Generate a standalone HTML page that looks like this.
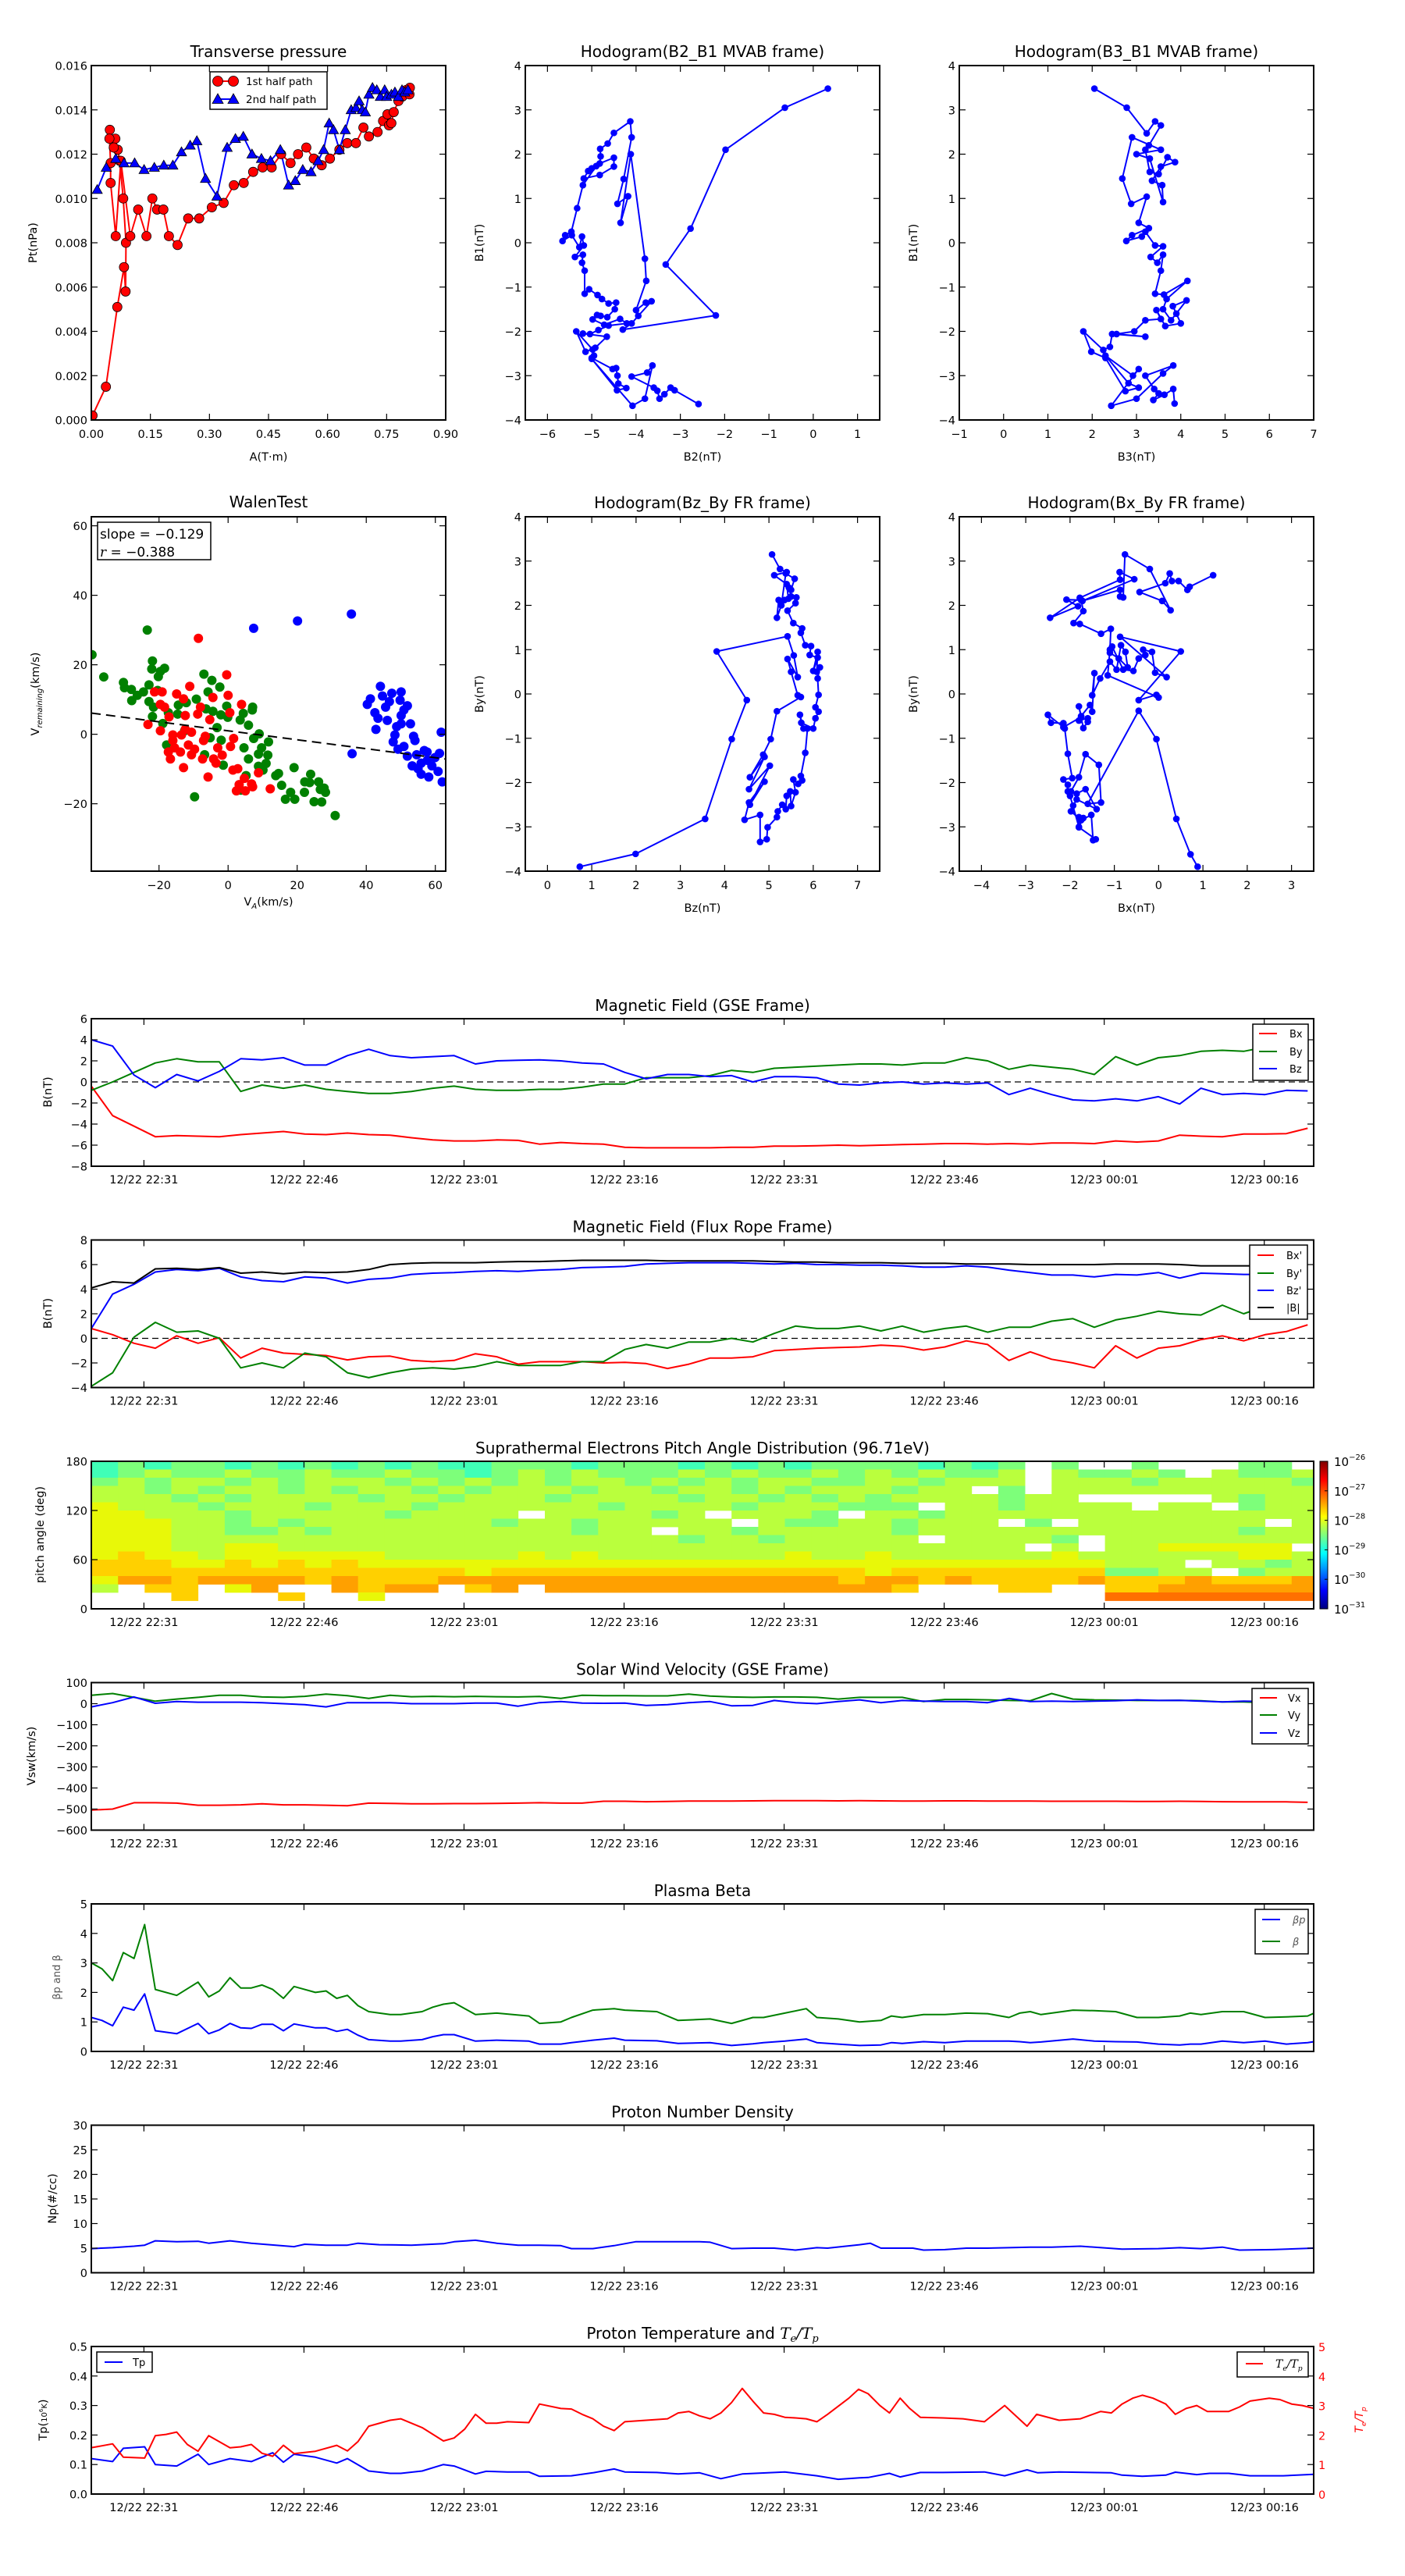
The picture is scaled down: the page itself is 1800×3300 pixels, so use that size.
<!DOCTYPE html>
<html><head><meta charset="utf-8">
<style>
html,body{margin:0;padding:0;background:#fff;}
svg{display:block;font-family:"DejaVu Sans","Liberation Sans",sans-serif;}
</style></head>
<body>
<svg id="fig" xmlns="http://www.w3.org/2000/svg" width="1800" height="3300" viewBox="0 0 1800 3300">
<rect x="0" y="0" width="1800" height="3300" fill="#fff"/>
</svg>
<script>
// ================= DATA =================
const ptFirstHalf = [[0.003,0.0002],[0.037,0.0015],[0.066,0.0051],[0.083,0.0069],[0.087,0.0058],[0.088,0.0080],[0.081,0.0100],[0.072,0.0117],[0.067,0.0122],[0.061,0.0127],[0.057,0.0123],[0.047,0.0131],[0.046,0.0127],[0.049,0.0116],[0.049,0.0107],[0.062,0.0083],[0.075,0.0117],[0.099,0.0083],[0.119,0.0095],[0.140,0.0083],[0.155,0.0100],[0.167,0.0095],[0.183,0.0095],[0.197,0.0083],[0.219,0.0079],[0.246,0.0091],[0.274,0.0091],[0.306,0.0096],[0.336,0.0098],[0.362,0.0106],[0.387,0.0107],[0.411,0.0112],[0.435,0.0114],[0.458,0.0114],[0.482,0.0120],[0.506,0.0116],[0.525,0.0120],[0.546,0.0123],[0.565,0.0118],[0.585,0.0115],[0.606,0.0118],[0.630,0.0122],[0.650,0.0125],[0.672,0.0125],[0.691,0.0132],[0.705,0.0128],[0.727,0.0130],[0.741,0.0135],[0.752,0.0138],[0.756,0.0133],[0.762,0.0134],[0.768,0.0139],[0.780,0.0144],[0.790,0.0146],[0.800,0.0149],[0.808,0.0147],[0.809,0.0150]];
const ptSecondHalf = [[0.015,0.0104],[0.038,0.0114],[0.062,0.0118],[0.083,0.0116],[0.110,0.0116],[0.134,0.0113],[0.160,0.0114],[0.184,0.0115],[0.207,0.0115],[0.229,0.0121],[0.251,0.0124],[0.268,0.0126],[0.290,0.0109],[0.319,0.0101],[0.345,0.0123],[0.366,0.0127],[0.386,0.0128],[0.408,0.0120],[0.432,0.0118],[0.455,0.0117],[0.480,0.0122],[0.501,0.0106],[0.518,0.0108],[0.537,0.0113],[0.558,0.0112],[0.576,0.0117],[0.590,0.0122],[0.604,0.0134],[0.615,0.0131],[0.630,0.0122],[0.645,0.0131],[0.660,0.0140],[0.672,0.0141],[0.680,0.0144],[0.688,0.0140],[0.696,0.0139],[0.705,0.0147],[0.714,0.0150],[0.725,0.0149],[0.734,0.0146],[0.745,0.0149],[0.750,0.0146],[0.762,0.0147],[0.771,0.0148],[0.780,0.0146],[0.789,0.0149],[0.796,0.0148],[0.804,0.0149]];
const ptXTicks = [0,0.15,0.30,0.45,0.60,0.75,0.90];
const ptXTickLabels = ["0.00","0.15","0.30","0.45","0.60","0.75","0.90"];
const ptYTicks = [0,0.002,0.004,0.006,0.008,0.010,0.012,0.014,0.016];
const ptYTickLabels = ["0.000","0.002","0.004","0.006","0.008","0.010","0.012","0.014","0.016"];

const hodoB2B1 = [[0.33,3.48],[-0.64,3.05],[-1.98,2.1],[-2.77,0.32],[-3.33,-0.49],[-2.2,-1.64],[-4.3,-1.96],[-4.1,-1.82],[-3.95,-1.65],[-3.65,-1.32],[-3.78,-1.35],[-4.0,-1.52],[-3.77,-0.86],[-3.8,-0.36],[-4.12,2.0],[-4.35,0.45],[-4.18,1.05],[-4.42,0.88],[-4.28,1.44],[-4.1,2.38],[-4.13,2.74],[-4.5,2.48],[-4.64,2.24],[-4.81,2.12],[-4.8,1.95],[-4.82,1.79],[-4.5,1.92],[-4.5,1.72],[-4.82,1.53],[-5.18,1.45],[-5.08,1.62],[-5.0,1.68],[-4.9,1.73],[-5.2,1.3],[-5.33,0.78],[-5.46,0.25],[-5.6,0.17],[-5.66,0.04],[-5.45,0.17],[-5.28,-0.1],[-5.22,0.14],[-5.18,-0.06],[-5.38,-0.32],[-5.2,-0.27],[-5.22,-0.45],[-5.16,-0.63],[-5.16,-1.15],[-5.06,-1.05],[-4.87,-1.18],[-4.77,-1.27],[-4.62,-1.37],[-4.45,-1.35],[-4.48,-1.5],[-4.65,-1.68],[-4.8,-1.65],[-4.88,-1.63],[-4.98,-1.73],[-4.72,-1.85],[-4.36,-1.72],[-4.21,-1.82],[-4.62,-1.87],[-4.85,-1.97],[-5.04,-2.06],[-5.2,-2.05],[-4.66,-2.12],[-4.92,-2.37],[-5.14,-2.46],[-5.35,-2.0],[-4.98,-2.41],[-4.95,-2.55],[-5.0,-2.6],[-4.53,-2.85],[-4.45,-2.83],[-4.42,-3.0],[-4.4,-3.18],[-4.22,-3.28],[-4.43,-3.33],[-5.0,-2.62],[-4.08,-3.68],[-3.8,-3.52],[-3.63,-2.77],[-3.75,-2.93],[-4.1,-3.02],[-3.6,-3.27],[-3.52,-3.34],[-3.47,-3.52],[-3.36,-3.42],[-3.22,-3.27],[-3.13,-3.33],[-2.59,-3.64]];
const hodoB3B1 = [[2.05,3.48],[2.78,3.05],[3.23,2.47],[3.42,2.74],[3.55,2.65],[3.28,2.2],[3.2,2.1],[3.3,1.6],[3.5,1.55],[3.7,1.93],[3.87,1.82],[3.55,1.72],[3.35,1.4],[3.58,1.3],[3.6,0.92],[3.3,1.9],[3.0,2.0],[3.55,2.1],[2.9,2.38],[2.68,1.45],[2.88,0.88],[3.23,1.04],[3.05,0.45],[3.28,0.33],[2.9,0.17],[2.77,0.04],[3.12,0.14],[3.2,0.25],[3.42,-0.06],[3.6,-0.08],[3.32,-0.32],[3.47,-0.45],[3.6,-0.27],[3.55,-0.63],[3.42,-1.15],[3.62,-1.17],[4.15,-0.86],[3.68,-1.27],[3.6,-1.5],[3.78,-1.75],[4.13,-1.3],[3.82,-1.43],[3.9,-1.6],[4.0,-1.82],[3.65,-1.88],[3.45,-1.52],[3.55,-1.72],[3.2,-1.75],[2.95,-2.0],[2.55,-2.06],[3.2,-2.12],[2.45,-2.06],[2.4,-2.35],[2.25,-2.42],[1.8,-2.0],[1.98,-2.46],[2.3,-2.6],[2.75,-3.35],[3.05,-3.27],[2.82,-3.17],[2.3,-2.55],[2.92,-3.0],[3.05,-2.85],[2.43,-3.68],[3.0,-3.52],[3.6,-2.95],[3.83,-2.77],[3.2,-3.0],[3.4,-3.3],[3.5,-3.4],[3.38,-3.55],[3.63,-3.43],[3.83,-3.3],[3.86,-3.63]];
const hodoBzBy = [[0.73,-3.9],[1.99,-3.61],[3.56,-2.82],[4.16,-1.02],[4.5,-0.14],[3.82,0.96],[5.42,1.3],[5.56,0.87],[5.65,0.38],[5.42,0.79],[5.5,0.5],[5.65,-0.03],[5.72,-0.07],[5.18,-0.39],[5.04,-1.02],[4.87,-1.37],[4.57,-1.88],[4.9,-1.42],[4.55,-2.15],[5.02,-1.62],[4.57,-2.5],[4.9,-1.98],[4.55,-2.45],[4.45,-2.84],[4.8,-2.73],[4.8,-3.34],[4.95,-3.28],[4.97,-3.01],[5.18,-2.78],[5.2,-2.65],[5.3,-2.5],[5.38,-2.6],[5.4,-2.3],[5.48,-2.2],[5.5,-2.53],[5.6,-2.22],[5.55,-1.93],[5.66,-2.03],[5.75,-1.95],[5.72,-1.85],[5.82,-1.33],[5.87,-0.78],[5.78,-0.78],[5.7,-0.47],[5.73,-0.65],[6.0,-0.78],[6.05,-0.55],[6.12,-0.4],[6.05,-0.3],[6.12,-0.02],[6.1,0.35],[6.15,0.6],[6.08,0.5],[6.1,0.95],[6.0,0.52],[6.1,0.82],[5.92,0.88],[5.95,1.08],[5.82,1.1],[5.72,1.38],[5.75,1.48],[5.55,1.6],[5.42,1.88],[5.6,2.05],[5.62,2.18],[5.5,2.2],[5.45,2.4],[5.5,2.35],[5.58,2.6],[5.38,2.72],[5.28,2.0],[5.18,1.72],[5.22,2.12],[5.35,2.12],[5.44,2.15],[5.4,2.48],[5.12,2.68],[5.4,2.75],[5.25,2.82],[5.07,3.15]];
const hodoBxBy = [[0.88,-3.9],[0.72,-3.62],[0.4,-2.82],[-0.05,-1.02],[-0.45,-0.38],[-1.6,-2.48],[-1.3,-2.45],[-1.35,-1.6],[-1.65,-1.36],[-1.8,-1.88],[-1.98,-2.2],[-1.85,-2.25],[-1.65,-2.15],[-1.4,-2.6],[-1.85,-2.38],[-1.93,-2.52],[-1.98,-2.65],[-1.75,-2.85],[-1.52,-2.73],[-1.48,-3.3],[-1.42,-3.28],[-1.8,-3.01],[-1.8,-2.78],[-1.7,-2.8],[-1.8,-3.0],[-2.0,-2.3],[-2.05,-2.2],[-2.05,-2.05],[-2.15,-1.93],[-1.95,-1.9],[-2.05,-1.35],[-2.12,-0.78],[-2.15,-0.66],[-2.43,-0.65],[-2.5,-0.47],[-2.15,-0.75],[-1.75,-0.52],[-1.8,-0.6],[-1.6,-0.55],[-1.6,-0.63],[-1.7,-0.77],[-1.8,-0.28],[-1.75,-0.5],[-1.55,-0.25],[-1.5,-0.4],[-1.45,0.47],[-1.5,-0.03],[-1.32,0.35],[-1.1,0.73],[-0.95,0.55],[-0.85,1.1],[-0.75,0.95],[-0.7,0.6],[-0.9,0.8],[-1.1,0.93],[-1.05,1.07],[-0.8,0.55],[-0.57,0.52],[-0.45,0.8],[-0.3,0.88],[-0.35,1.0],[-0.15,0.95],[-0.08,0.48],[0.18,0.38],[-0.87,1.29],[0.5,0.96],[-0.45,-0.14],[-0.05,-0.02],[0.0,-0.08],[-1.15,0.42],[-1.1,1.0],[-1.08,1.47],[-1.3,1.36],[-1.78,1.58],[-1.92,1.6],[-1.7,1.87],[-1.75,2.12],[-2.08,2.13],[-1.82,1.98],[-2.45,1.72],[-1.78,2.17],[-0.87,2.58],[-0.88,2.75],[-0.55,2.59],[-1.72,2.1],[-0.87,2.35],[-0.87,2.2],[-0.8,2.18],[-0.76,3.15],[-0.2,2.82],[0.27,1.89],[0.08,2.1],[-0.43,2.3],[0.15,2.5],[0.25,2.72],[0.3,2.55],[0.45,2.55],[0.65,2.35],[0.7,2.42],[1.23,2.68]];

const walenGreen = [[-39.4,22.9],[-36,16.5],[-30.3,14.9],[-30,13.4],[-28,12.9],[-27.9,9.7],[-26.3,11.2],[-24.5,12.2],[-23.4,30],[-22.9,14.2],[-22.9,9.4],[-21.9,21.1],[-22.1,18.8],[-20.2,16.6],[-19.6,18.1],[-18.4,19],[-20.4,12.6],[-21.6,7.8],[-21.9,5.1],[-18.9,3.1],[-17.8,-3.1],[-17.3,6.2],[-14.4,8.4],[-12.1,9.1],[-12.6,1],[-14.6,5.8],[-9.2,10.1],[-7,17.3],[-4.7,15.5],[-5.8,12.2],[-2.4,13.6],[-3.2,1.9],[-0.4,8.1],[-0.1,4.9],[-2.1,5.6],[-6.4,7.3],[-4.4,6.6],[-5.2,-1],[-2,-1.7],[-1.4,-8.9],[-6.8,-5.9],[-9.7,-18],[3.5,4.1],[4.4,6],[7.1,7.8],[7,7],[5.9,2.6],[9,0.1],[4.6,-3.9],[7.4,-1.2],[5.9,-7.1],[5.2,-11.9],[8.8,-5.7],[9.7,-3.9],[11.7,-2.2],[11.5,-6],[8.8,-9.2],[10.1,-10.3],[11,-8.4],[13.8,-11.9],[14.6,-11.3],[15.5,-14.7],[16.6,-18.7],[18.1,-16.7],[19.1,-9.6],[19.3,-18.7],[22.1,-16.7],[22.2,-13.7],[23.9,-11.5],[23.6,-13.9],[24.9,-19.4],[26.2,-13.7],[26.7,-15.9],[27.1,-19.5],[27.8,-15.5],[28.2,-16.7],[31,-23.4],[3.7,-16.1]];
const walenRed = [[-8.6,27.6],[-0.4,17.1],[-23.2,2.8],[-21.3,12.2],[-19.1,12.2],[-19.6,1],[-18.4,7.8],[-17.1,5],[-16.7,-7.1],[-15.5,-3.9],[-14.9,11.6],[-12.9,10.2],[-12.4,5.4],[-11.1,13.8],[-13.5,-0.2],[-11.5,-3.1],[-10.6,-5.9],[-8.8,5.8],[-8,7.8],[-7.4,-7.1],[-7.1,-1.8],[-5.8,-12.3],[-5.3,4.2],[-4.4,10.6],[-4.2,-7.1],[-3.0,-3.9],[-1.7,-6],[0,11.2],[0.5,6.2],[0.7,-3.5],[1.6,-1.2],[1.4,-10.3],[2.8,-9.9],[2.4,-16.3],[3.2,-14.5],[3.9,8.6],[4.7,-12.7],[5,-16.3],[6.8,-14.3],[7.1,-15.1],[8.8,-11.1],[12.2,-15.7],[-16,-0.2],[-12.4,1.4],[-9.7,-4.3],[-10.6,0.6],[-13.8,-5.1],[-17.3,-5.1],[-16,-1.8],[-3.5,-8.3],[-6.6,-0.6],[-12.9,-9.6],[-19.6,8.6]];
const walenBlue = [[7.4,30.5],[20.1,32.6],[35.7,34.6],[35.9,-5.6],[40.3,8.6],[41.2,10.2],[42.8,1.4],[44.1,13.8],[42.5,6.2],[44.7,11],[45.6,7.8],[46.1,4],[46.7,9.4],[47.4,11.8],[48.3,-0.2],[48.8,2.2],[49.2,-4.3],[50.1,12.2],[49.8,9.8],[50.1,3],[50.9,-3.5],[51.9,8.2],[51.9,-6.3],[52.8,3],[53.7,-0.6],[54.1,-1.8],[54.6,-5.9],[55.0,-9.9],[55.9,-11.5],[56.8,-4.7],[57.7,-7.5],[58.1,-12.3],[59,-9.1],[59.9,-6.7],[60.8,-10.7],[61.7,0.6],[62,-13.7],[61.2,-5.5],[50.1,5.4],[50.9,7],[47.8,-2.2],[43.4,4.6],[55.9,-8.3],[53.3,-9.1],[57.6,-5.1]];
const walenSlope = -0.129;
const walenIntercept = 1.0;

const tGrid = [0,2,4,6,8,10,12,14,16,18,20,22,24,26,28,30,32,34,36,38,40,42,44,46,48,50,52,54,56,58,60,62,64,66,68,70,72,74,76,78,80,82,84,86,88,90,92,94,96,98,100,102,104,106,108,110,112,114];
const timeTickMinutes = [4.93,19.93,34.93,49.93,64.93,79.93,94.93,109.93];
const timeTickLabels = ["12/22 22:31","12/22 22:46","12/22 23:01","12/22 23:16","12/22 23:31","12/22 23:46","12/23 00:01","12/23 00:16"];

const gseBx = [-0.4,-3.2,-4.2,-5.2,-5.1,-5.15,-5.2,-5.0,-4.85,-4.7,-4.95,-5.0,-4.85,-5.0,-5.05,-5.3,-5.5,-5.6,-5.6,-5.5,-5.55,-5.9,-5.75,-5.85,-5.9,-6.2,-6.25,-6.25,-6.25,-6.25,-6.2,-6.2,-6.1,-6.1,-6.05,-6.0,-6.05,-6.0,-5.95,-5.9,-5.85,-5.85,-5.9,-5.85,-5.9,-5.8,-5.8,-5.85,-5.6,-5.7,-5.6,-5.05,-5.15,-5.2,-4.95,-4.95,-4.9,-4.4];
const gseBy = [-0.8,0.0,0.9,1.8,2.2,1.9,1.9,-0.9,-0.3,-0.6,-0.3,-0.7,-0.9,-1.1,-1.1,-0.9,-0.6,-0.4,-0.7,-0.8,-0.8,-0.7,-0.7,-0.5,-0.2,-0.2,0.4,0.4,0.4,0.6,1.1,0.9,1.3,1.4,1.5,1.6,1.7,1.7,1.6,1.8,1.8,2.3,2.0,1.2,1.6,1.4,1.2,0.7,2.4,1.6,2.3,2.5,2.9,3.0,2.9,3.3,3.5,3.9];
const gseBz = [4.0,3.4,0.65,-0.55,0.7,0.1,1.0,2.2,2.1,2.3,1.6,1.6,2.5,3.1,2.5,2.3,2.4,2.5,1.7,2.0,2.05,2.1,2.0,1.8,1.7,0.9,0.3,0.7,0.7,0.5,0.6,0.0,0.5,0.5,0.4,-0.2,-0.3,-0.1,0.0,-0.2,-0.1,-0.2,-0.1,-1.2,-0.6,-1.2,-1.7,-1.8,-1.6,-1.8,-1.4,-2.1,-0.6,-1.2,-1.1,-1.2,-0.8,-0.85];

const frBx = [0.8,0.3,-0.4,-0.8,0.2,-0.4,0.05,-1.6,-0.8,-1.2,-1.3,-1.4,-1.75,-1.5,-1.45,-1.8,-1.9,-1.8,-1.25,-1.5,-2.1,-1.9,-1.9,-1.9,-2.0,-1.95,-2.05,-2.45,-2.1,-1.6,-1.6,-1.5,-1.0,-0.9,-0.8,-0.75,-0.7,-0.55,-0.65,-0.95,-0.7,-0.2,-0.5,-1.8,-1.1,-1.7,-2.0,-2.4,-0.6,-1.6,-0.8,-0.6,-0.1,0.2,-0.2,0.3,0.55,1.1];
const frBy = [-3.9,-2.8,0.1,1.3,0.5,0.6,0.0,-2.4,-2.0,-2.4,-1.2,-1.5,-2.8,-3.2,-2.8,-2.5,-2.4,-2.5,-2.3,-1.9,-2.2,-2.2,-2.2,-1.9,-1.9,-0.9,-0.5,-0.8,-0.3,-0.3,0.0,-0.3,0.4,1.0,0.8,0.8,1.0,0.6,1.0,0.5,0.8,1.0,0.5,0.9,0.9,1.4,1.6,0.9,1.5,1.8,2.2,2.0,1.9,2.7,2.0,2.6,2.6,2.6];
const frBz = [0.8,3.6,4.4,5.4,5.6,5.5,5.7,5.0,4.7,4.6,5.0,4.9,4.5,4.8,4.9,5.2,5.3,5.35,5.45,5.5,5.45,5.55,5.6,5.75,5.8,5.85,6.05,6.1,6.15,6.15,6.15,6.1,6.05,6.1,6.0,6.0,5.95,5.95,5.9,5.8,5.8,5.9,5.8,5.55,5.35,5.15,5.15,5.0,5.2,5.15,5.35,4.9,5.3,5.25,5.2,5.2,5.3,5.2];
const frBmag = [4.1,4.6,4.5,5.65,5.7,5.6,5.75,5.3,5.4,5.25,5.4,5.35,5.4,5.6,6.0,6.1,6.15,6.15,6.15,6.2,6.25,6.25,6.3,6.35,6.35,6.35,6.35,6.3,6.3,6.3,6.3,6.3,6.25,6.2,6.2,6.15,6.15,6.15,6.1,6.1,6.1,6.05,6.05,6.05,6.0,6.0,6.0,6.0,6.05,6.05,6.05,6.0,5.9,5.9,5.9,5.9,5.95,6.0];

const padRows = [
"3434434343"+"4343344434"+"4434343444"+"43434.4..4"+"...44.",
"3454454454"+"4544345454"+"4454544545"+"45445.5445"+"4.5445",
"4545545455"+"5454545455"+"4545455445"+"54555.5554"+"555554",
"5545455454"+"5545455545"+"5455454555"+"455.4.5555"+"555555",
"5554545555"+"4554555455"+"5545545454"+"5555455..."+"..5455",
"6555455545"+"5545555554"+"5555455544"+"4.5545555."+"55.455",
"6655545555"+"545555.555"+"545.5554.5"+"5455555555"+"555555",
"6665545455"+"5555545545"+"5555.54455"+"4555.4.555"+"5555.5",
"6665544545"+"5555555545"+"5.55455555"+"4555555555"+"555455",
"6665555555"+"5555555555"+"5545545555"+"5.55554.55"+"555555",
"6665566555"+"5555555555"+"5555555555"+"55555.5.55"+"66666.",
"6766566666"+"6555556565"+"5555556556"+"5555556555"+"555665",
"7776676767"+"6666666666"+"6666666666"+"6666666655"+"5.5545",
"7777777777"+"7777677777"+"7777777776"+"7777777744"+"55.455",
"6887888878"+"7778888888"+"8888888878"+"8787777877"+"787778",
"5.77.68..8"+"788.78.888"+"8888888888"+"7...77..77"+"888888",
"...7...7.."+"6........."+".........."+"........99"+"999999",
""
];
const padLevelColors = ["#0000d0","#0060ff","#00c0ff","#40ffb7","#7dff7a","#baff3d","#e8f808","#ffd000","#ffa000","#ff7000"];
const padBinMinutes = 2.5;
const padBinDegrees = 10;
const colorbarExponents = ["-26","-27","-28","-29","-30","-31"];

const vx = [-505,-500,-470,-470,-472,-482,-482,-480,-475,-480,-480,-482,-484,-472,-473,-475,-475,-474,-474,-473,-472,-470,-472,-472,-463,-463,-465,-464,-462,-462,-462,-461,-460,-460,-460,-461,-460,-461,-462,-462,-461,-461,-462,-462,-462,-463,-463,-463,-463,-464,-464,-463,-464,-465,-466,-466,-466,-468];
const vy = [40,48,30,12,22,30,40,40,32,30,35,45,38,25,40,33,35,33,35,33,32,34,25,40,38,38,37,37,45,36,32,30,32,32,30,22,30,30,30,10,20,20,18,15,14,48,22,18,17,15,15,16,14,8,8,5,5,5];
const vz = [-15,5,32,2,10,7,7,7,5,0,-5,-15,5,5,5,0,0,0,3,3,-12,5,10,3,2,3,-8,-5,5,10,-10,-8,15,5,0,10,18,5,15,12,10,10,5,25,10,12,10,12,14,18,15,16,12,8,12,10,8,5];

const betaTimes = [0,1,2,3,4,5,6,8,10,11,12,13,14,15,16,17,18,19,21,22,23,24,25,26,28,29,31,32,33,34,36,38,41,42,44,45,47,49,50,53,55,58,60,62,63,65,67,68,70,72,74,75,76,78,80,82,84,86,87,88,89,92,94,96,98,100,102,103,104,106,108,110,112,114,114.6];
const betaTotal = [3.0,2.8,2.4,3.35,3.15,4.3,2.1,1.9,2.35,1.85,2.05,2.5,2.15,2.15,2.25,2.1,1.8,2.2,2.0,2.05,1.8,1.9,1.55,1.35,1.25,1.25,1.35,1.5,1.6,1.65,1.25,1.3,1.2,0.95,1.0,1.15,1.4,1.45,1.4,1.35,1.05,1.1,0.95,1.15,1.15,1.3,1.45,1.15,1.1,1.0,1.05,1.2,1.15,1.25,1.25,1.3,1.28,1.15,1.3,1.35,1.25,1.4,1.38,1.35,1.15,1.15,1.2,1.3,1.25,1.35,1.35,1.15,1.17,1.2,1.3];
const betaProton = [1.15,1.05,0.87,1.5,1.4,1.95,0.7,0.6,0.95,0.6,0.73,0.95,0.8,0.78,0.92,0.92,0.7,0.93,0.8,0.8,0.68,0.75,0.55,0.4,0.35,0.35,0.4,0.5,0.57,0.57,0.35,0.38,0.35,0.25,0.25,0.3,0.38,0.45,0.38,0.36,0.27,0.3,0.2,0.26,0.3,0.35,0.42,0.3,0.25,0.2,0.22,0.3,0.27,0.33,0.3,0.35,0.35,0.35,0.33,0.3,0.32,0.42,0.35,0.33,0.32,0.25,0.22,0.25,0.25,0.35,0.3,0.35,0.25,0.3,0.33];

const npTimes = [0,2,4,5,6,8,10,11,13,15,19,20,22,24,25,27,30,33,34,36,38,40,42,44,45,47,49,51,57,58,60,62,64,66,68,69,72,73,74,77,78,80,82,84,86,88,90,92.7,96.6,100,102,104,106,107.6,110.7,114.6];
const npValues = [4.9,5.1,5.4,5.6,6.5,6.3,6.4,6.0,6.5,6.0,5.3,5.8,5.6,5.6,6.0,5.7,5.6,5.9,6.3,6.6,6.0,5.6,5.6,5.5,4.9,4.9,5.5,6.3,6.3,6.2,4.9,5.0,5.0,4.6,5.1,5.0,5.7,6.0,5.0,5.0,4.6,4.7,5.0,5.0,5.1,5.2,5.2,5.4,4.8,4.9,5.1,4.9,5.2,4.6,4.7,5.0];

const tpTimes = [0,2,3,5,6,8,10,11,13,15,17,18,19,21,23,24,26,28,29,31,33,34,36,37,39,41,42,45,47,49,50,53,55,57,59,61,65,68,70,72,72.8,74.8,75.8,77.7,79.8,83.7,85.6,87.7,88.7,90.7,95.6,96.6,98.5,100.7,101.6,103.6,104.8,106.6,108.6,111.7,114.6];
const tpValues = [0.12,0.11,0.155,0.16,0.10,0.095,0.135,0.10,0.12,0.11,0.14,0.108,0.135,0.125,0.105,0.12,0.078,0.07,0.07,0.078,0.10,0.095,0.068,0.077,0.075,0.075,0.06,0.062,0.072,0.085,0.075,0.073,0.068,0.072,0.052,0.068,0.075,0.062,0.05,0.055,0.056,0.07,0.058,0.073,0.073,0.075,0.062,0.082,0.072,0.075,0.072,0.064,0.06,0.064,0.074,0.066,0.07,0.07,0.062,0.062,0.067];
const teTpTimes = [0,2,3,5,6,7,8,9,10,11,13,14,15,16,17,18,19,21,23,24,25,26,28,29,31,33,34,35,36,37,38,39,41,42,44,45,46,47,48,49,50,52,54,55,56,57,58,59,60,61,62,63,64,65,66,67,68,69,71,71.9,72.8,73.9,74.8,75.8,76.7,77.7,79.8,81.7,83.7,85.6,87.7,88.6,90.7,92.7,94.6,95.6,96.6,97.6,98.5,99.5,100.7,101.6,102.6,103.6,104.6,106.6,107.6,108.6,110.4,111.4,112.5,113.5,114.6];
const teTpValues = [1.57,1.7,1.25,1.22,1.98,2.02,2.1,1.68,1.45,1.98,1.57,1.6,1.68,1.38,1.28,1.65,1.37,1.45,1.65,1.46,1.78,2.3,2.5,2.55,2.25,1.8,1.9,2.2,2.7,2.4,2.4,2.45,2.42,3.05,2.9,2.88,2.7,2.55,2.3,2.15,2.45,2.5,2.55,2.75,2.8,2.65,2.55,2.75,3.1,3.58,3.15,2.75,2.7,2.6,2.58,2.55,2.45,2.7,3.25,3.55,3.4,3.0,2.75,3.25,2.9,2.6,2.58,2.55,2.45,3.0,2.3,2.7,2.5,2.55,2.8,2.75,3.05,3.25,3.35,3.25,3.05,2.7,2.9,3.0,2.8,2.8,2.95,3.15,3.25,3.2,3.05,3.0,2.9];

// ================= DRAWING =================
const NS = 'http://www.w3.org/2000/svg';
const svg = document.getElementById('fig');
const FONT = 14.5;
const MINUS = '\u2212';

function el(tag, attrs, parent) {
  const e = document.createElementNS(NS, tag);
  for (const k in attrs) e.setAttribute(k, attrs[k]);
  (parent || svg).appendChild(e);
  return e;
}
function txt(x, y, s, size, anchor, parent, extra) {
  const a = {x: x, y: y, 'font-size': size, 'text-anchor': anchor || 'middle', fill: '#000'};
  if (extra) for (const k in extra) a[k] = extra[k];
  const t = el('text', a, parent);
  t.textContent = s;
  return t;
}
function fmt(s) { return String(s).replace('-', MINUS); }

function makeAxes(name, px0, py0, w, h, xmin, xmax, ymin, ymax) {
  const g = el('g', {});
  
  
  const ax = {g: g, px0: px0, py0: py0, w: w, h: h,
    sx: v => px0 + (v - xmin) / (xmax - xmin) * w,
    sy: v => py0 + h - (v - ymin) / (ymax - ymin) * h};
  const cp = el('clipPath', {id: 'clip-' + name}, g);
  el('rect', {x: px0, y: py0, width: w, height: h}, cp);
  ax.plot = el('g', {'clip-path': 'url(#clip-' + name + ')'}, g);
  
  
  return ax;
}
function frame(ax) {
  const r = el('rect', {x: ax.px0, y: ax.py0, width: ax.w, height: ax.h, fill: 'none', stroke: '#000', 'stroke-width': 2}, ax.g);
  
  
}
function xTicks(ax, vals, labels, opts) {
  opts = opts || {};
  const g = el('g', {}, ax.g);
  
  
  vals.forEach((v, i) => {
    const x = ax.sx(v);
    el('line', {x1: x, x2: x, y1: ax.py0 + ax.h, y2: ax.py0 + ax.h - 8, stroke: '#000', 'stroke-width': 1.2}, g);
    el('line', {x1: x, x2: x, y1: ax.py0, y2: ax.py0 + 8, stroke: '#000', 'stroke-width': 1.2}, g);
    const t = txt(x, ax.py0 + ax.h + (opts.dy || 23), fmt(labels[i]), FONT, 'middle', g);
    
    
  });
}
function yTicks(ax, vals, labels, opts) {
  opts = opts || {};
  const g = el('g', {}, ax.g);
  
  
  vals.forEach((v, i) => {
    const y = ax.sy(v);
    el('line', {x1: ax.px0, x2: ax.px0 + 8, y1: y, y2: y, stroke: '#000', 'stroke-width': 1.2}, g);
    if (!opts.noRight) el('line', {x1: ax.px0 + ax.w, x2: ax.px0 + ax.w - 8, y1: y, y2: y, stroke: '#000', 'stroke-width': 1.2}, g);
    const t = txt(ax.px0 - 5, y + 5.5, fmt(labels[i]), FONT, 'end', g);
    
    
  });
}
function title(x, y, s, name) {
  const t = txt(x, y, s, 20, 'middle');
  
  
  return t;
}
function yLabel(x, cy, s, name, size, color) {
  const t = txt(x, cy, s, size || FONT, 'middle', svg, {transform: 'rotate(-90 ' + x + ' ' + cy + ')', fill: color || '#000'});
  
  
  return t;
}
function xLabel(x, y, s, name) {
  const t = txt(x, y, s, FONT, 'middle');
  
  
  return t;
}
function polyline(ax, pts, color, name, w) {
  const p = el('polyline', {points: pts.map(q => ax.sx(q[0]).toFixed(1) + ',' + ax.sy(q[1]).toFixed(1)).join(' '), fill: 'none', stroke: color, 'stroke-width': w || 2, 'stroke-linejoin': 'round'}, ax.plot);
  
  
  return p;
}
function series(ax, times, vals, color, name, w) {
  return polyline(ax, times.map((t, i) => [t, vals[i]]), color, name, w);
}
function range(a, b, s) { const r = []; for (let v = a; v <= b + 1e-9; v += s) r.push(+v.toFixed(6)); return r; }
function mathFrac(parent) {
  let a = el('tspan', {}, parent); a.textContent = 'T';
  let b = el('tspan', {'font-size': '0.65em', dy: 4}, parent); b.textContent = 'e';
  let c = el('tspan', {dy: -4}, parent); c.textContent = '/T';
  let d = el('tspan', {'font-size': '0.65em', dy: 4}, parent); d.textContent = 'p';
}

// ---------- Transverse pressure ----------
(function () {
  const ax = makeAxes('transverse-pressure-chart', 117, 84, 454, 454, 0, 0.9, 0, 0.016);
  polyline(ax, ptFirstHalf, '#ff0000', 'first-half-line');
  polyline(ax, ptSecondHalf, '#0000ff', 'second-half-line');
  ptFirstHalf.forEach(p => {
    const c = el('circle', {cx: ax.sx(p[0]), cy: ax.sy(p[1]), r: 6, fill: '#ff0000', stroke: '#000', 'stroke-width': 0.8}, ax.plot);
    
    
  });
  ptSecondHalf.forEach(p => {
    const x = ax.sx(p[0]), y = ax.sy(p[1]);
    const t = el('polygon', {points: x + ',' + (y - 6.5) + ' ' + (x - 6.5) + ',' + (y + 5) + ' ' + (x + 6.5) + ',' + (y + 5), fill: '#0000ff', stroke: '#000', 'stroke-width': 0.8}, ax.plot);
    
    
  });
  frame(ax);
  xTicks(ax, ptXTicks, ptXTickLabels);
  yTicks(ax, ptYTicks, ptYTickLabels);
  const lg = el('g', {}, ax.g);
  
  
  el('rect', {x: 269, y: 92, width: 150, height: 48, fill: '#fff', stroke: '#000', 'stroke-width': 1.5}, lg);
  el('line', {x1: 279, x2: 299, y1: 104, y2: 104, stroke: '#ff0000', 'stroke-width': 2}, lg);
  el('circle', {cx: 279, cy: 104, r: 6.5, fill: '#ff0000', stroke: '#000', 'stroke-width': 0.8}, lg);
  el('circle', {cx: 299, cy: 104, r: 6.5, fill: '#ff0000', stroke: '#000', 'stroke-width': 0.8}, lg);
  txt(315, 109, '1st half path', 13.5, 'start', lg);
  el('line', {x1: 279, x2: 299, y1: 127, y2: 127, stroke: '#0000ff', 'stroke-width': 2}, lg);
  el('polygon', {points: '279,120 272,132.5 286,132.5', fill: '#0000ff', stroke: '#000', 'stroke-width': 0.8}, lg);
  el('polygon', {points: '299,120 292,132.5 306,132.5', fill: '#0000ff', stroke: '#000', 'stroke-width': 0.8}, lg);
  txt(315, 132, '2nd half path', 13.5, 'start', lg);
  title(344, 73, 'Transverse pressure', 'transverse-pressure-title');
  yLabel(47, 311, 'Pt(nPa)', 'pt-y-axis-title');
  xLabel(344, 590, 'A(T\u00b7m)', 'a-x-axis-title');
})();

// ---------- Hodograms ----------
function hodogram(name, px, py, data, xmin, xmax, xt, ymin, ymax, titleStr, xl, yl) {
  const ax = makeAxes(name, px, py, 454, 454, xmin, xmax, ymin, ymax);
  polyline(ax, data, '#0000ff', name + '-path', 2);
  data.forEach(p => {
    const c = el('circle', {cx: ax.sx(p[0]), cy: ax.sy(p[1]), r: 4.3, fill: '#0000ff'}, ax.plot);
    
    
  });
  frame(ax);
  xTicks(ax, xt, xt.map(String));
  const yt = range(ymin, ymax, 1);
  yTicks(ax, yt, yt.map(String));
  title(px + 227, py - 11, titleStr, name + '-title');
  xLabel(px + 227, py + 506, xl, name + '-x-axis-title');
  yLabel(px - 54, py + 227, yl, name + '-y-axis-title');
}
hodogram('hodogram-b2-b1', 673, 84, hodoB2B1, -6.5, 1.5, range(-6, 1, 1), -4, 4, 'Hodogram(B2_B1 MVAB frame)', 'B2(nT)', 'B1(nT)');
hodogram('hodogram-b3-b1', 1229, 84, hodoB3B1, -1, 7, range(-1, 7, 1), -4, 4, 'Hodogram(B3_B1 MVAB frame)', 'B3(nT)', 'B1(nT)');
hodogram('hodogram-bz-by', 673, 662, hodoBzBy, -0.5, 7.5, range(0, 7, 1), -4, 4, 'Hodogram(Bz_By FR frame)', 'Bz(nT)', 'By(nT)');
hodogram('hodogram-bx-by', 1229, 662, hodoBxBy, -4.5, 3.5, range(-4, 3, 1), -4, 4, 'Hodogram(Bx_By FR frame)', 'Bx(nT)', 'By(nT)');

// ---------- Walen test ----------
(function () {
  const ax = makeAxes('walen-test-chart', 117, 662, 454, 454, -39.6, 63, -39.4, 62.6);
  [[walenGreen, '#008000', 'walen-green-point'], [walenRed, '#ff0000', 'walen-red-point'], [walenBlue, '#0000ff', 'walen-blue-point']].forEach(s => {
    s[0].forEach(p => {
      const c = el('circle', {cx: ax.sx(p[0]), cy: ax.sy(p[1]), r: 6, fill: s[1]}, ax.plot);
      
      
    });
  });
  const fit = el('line', {x1: ax.sx(-39.6), y1: ax.sy(walenIntercept + walenSlope * -39.6), x2: ax.sx(63), y2: ax.sy(walenIntercept + walenSlope * 63), stroke: '#000', 'stroke-width': 2, 'stroke-dasharray': '12,7'}, ax.plot);
  
  
  frame(ax);
  const xt = [-20, 0, 20, 40, 60];
  xTicks(ax, xt, xt.map(String));
  yTicks(ax, xt, xt.map(String));
  const box = el('g', {}, ax.g);
  
  
  el('rect', {x: 125, y: 669, width: 145, height: 48, fill: '#fff', stroke: '#000', 'stroke-width': 1.5}, box);
  txt(128, 690, 'slope = ' + fmt(walenSlope.toFixed(3)), 17, 'start', box);
  const t2 = txt(128, 713, '', 17, 'start', box);
  const ti = el('tspan', {'font-style': 'italic', 'font-family': '"DejaVu Serif", serif'}, t2); ti.textContent = 'r';
  const tr = el('tspan', {}, t2); tr.textContent = ' = ' + MINUS + '0.388';
  title(344, 650, 'WalenTest', 'walen-test-title');
  const xl = xLabel(344, 1160, '', 'va-x-axis-title');
  let s1 = el('tspan', {}, xl); s1.textContent = 'V';
  let s2 = el('tspan', {'font-size': 10, 'font-style': 'italic', dy: 4}, xl); s2.textContent = 'A';
  let s3 = el('tspan', {dy: -4}, xl); s3.textContent = '(km/s)';
  const yl = yLabel(50, 889, '', 'vremaining-y-axis-title');
  s1 = el('tspan', {}, yl); s1.textContent = 'V';
  s2 = el('tspan', {'font-size': 10, 'font-style': 'italic', dy: 4}, yl); s2.textContent = 'remaining';
  s3 = el('tspan', {dy: -4}, yl); s3.textContent = '(km/s)';
})();

// ---------- Time series panels ----------
const TS_X0 = 117, TS_W = 1566, TS_TMAX = 114.56, TS_H = 189;
function tsTop(i) { return 1305 + 283.5 * i; }
function tsPanel(i, name, ymin, ymax, yt, ytl, titleStr) {
  const ax = makeAxes(name, TS_X0, tsTop(i), TS_W, TS_H, 0, TS_TMAX, ymin, ymax);
  ax.finish = function (noRight) {
    frame(ax);
    xTicks(ax, timeTickMinutes, timeTickLabels, {dy: 22});
    yTicks(ax, yt, ytl, {noRight: noRight});
  };
  ax.titleEl = title(900, tsTop(i) - 10, titleStr, name + '-title');
  return ax;
}
function legend(name, x, y, w, h, entries, lineX1, lineX2, textX) {
  const g = el('g', {});
  
  
  el('rect', {x: x, y: y, width: w, height: h, fill: '#fff', stroke: '#000', 'stroke-width': 1.5}, g);
  entries.forEach(e => {
    const item = el('g', {}, g);
    
    
    el('line', {x1: lineX1, x2: lineX2, y1: e[2], y2: e[2], stroke: e[1], 'stroke-width': 2}, item);
    txt(textX, e[2] + 5, e[0], 13, 'start', item, e[3] || {});
  });
  return g;
}
function zeroLine(ax) {
  const l = el('line', {x1: ax.px0, x2: ax.px0 + ax.w, y1: ax.sy(0), y2: ax.sy(0), stroke: '#000', 'stroke-width': 1.2, 'stroke-dasharray': '8,5'}, ax.plot);
  
  
}

(function () {
  const yt = range(-8, 6, 2);
  const ax = tsPanel(0, 'magnetic-field-gse-chart', -8, 6, yt, yt.map(String), 'Magnetic Field (GSE Frame)');
  zeroLine(ax);
  series(ax, tGrid, gseBx, '#ff0000', 'bx-line');
  series(ax, tGrid, gseBy, '#008000', 'by-line');
  series(ax, tGrid, gseBz, '#0000ff', 'bz-line');
  ax.finish();
  legend('gse-legend', 1605, 1312, 71, 72, [['Bx', '#ff0000', 1324], ['By', '#008000', 1347], ['Bz', '#0000ff', 1369]], 1613, 1636, 1652);
  yLabel(66, tsTop(0) + 94, 'B(nT)', 'b-gse-y-axis-title');
})();

(function () {
  const yt = range(-4, 8, 2);
  const ax = tsPanel(1, 'magnetic-field-flux-rope-chart', -4, 8, yt, yt.map(String), 'Magnetic Field (Flux Rope Frame)');
  zeroLine(ax);
  series(ax, tGrid, frBx, '#ff0000', 'bx-prime-line');
  series(ax, tGrid, frBy, '#008000', 'by-prime-line');
  series(ax, tGrid, frBz, '#0000ff', 'bz-prime-line');
  series(ax, tGrid, frBmag, '#000000', 'b-magnitude-line');
  ax.finish();
  legend('flux-rope-legend', 1601, 1595, 74, 95, [["Bx'", '#ff0000', 1608], ["By'", '#008000', 1631], ["Bz'", '#0000ff', 1653], ['|B|', '#000000', 1675]], 1611, 1632, 1648);
  yLabel(66, tsTop(1) + 94, 'B(nT)', 'b-fr-y-axis-title');
})();

(function () {
  const yt = [0, 60, 120, 180];
  const ax = tsPanel(2, 'pitch-angle-distribution-chart', 0, 180, yt, yt.map(String), 'Suprathermal Electrons Pitch Angle Distribution (96.71eV)');
  padRows.forEach((row, j) => {
    const hiDeg = 180 - j * padBinDegrees;
    for (let i = 0; i < row.length; i++) {
      const ch = row[i];
      if (ch === '.') continue;
      const t0 = i * padBinMinutes;
      const x0 = ax.sx(t0), x1 = ax.sx(Math.min(t0 + padBinMinutes, TS_TMAX));
      const y0 = ax.sy(hiDeg), y1 = ax.sy(hiDeg - padBinDegrees);
      const r = el('rect', {x: x0.toFixed(1), y: y0.toFixed(1), width: (x1 - x0 + 0.4).toFixed(1), height: (y1 - y0 + 0.4).toFixed(1), fill: padLevelColors[+ch]}, ax.plot);
      
      
    }
  });
  ax.finish();
  yLabel(56, tsTop(2) + 94, 'pitch angle (deg)', 'pitch-angle-y-axis-title');
  const cb = el('g', {});
  
  
  const defs = el('defs', {}, cb);
  const lgd = el('linearGradient', {id: 'jet', x1: 0, y1: 1, x2: 0, y2: 0}, defs);
  ['#00007f', '#0000ff', '#007fff', '#00ffff', '#7fff7f', '#ffff00', '#ff7f00', '#ff0000', '#7f0000'].forEach((c, k) => el('stop', {offset: (k / 8).toFixed(3), 'stop-color': c}, lgd));
  const top = tsTop(2);
  el('rect', {x: 1691, y: top, width: 10, height: TS_H, fill: 'url(#jet)', stroke: '#000', 'stroke-width': 1}, cb);
  colorbarExponents.forEach((e, k) => {
    const y = top + k * TS_H / 5;
    el('line', {x1: 1697, x2: 1701, y1: y, y2: y, stroke: '#000', 'stroke-width': 1}, cb);
    const t = txt(1709, y + 6, '10', 15, 'start', cb);
    const sup = el('tspan', {'font-size': 10, dy: -8}, t); sup.textContent = fmt(e);
  });
})();

(function () {
  const yt = range(-600, 100, 100);
  const ax = tsPanel(3, 'solar-wind-velocity-chart', -600, 100, yt, yt.map(String), 'Solar Wind Velocity (GSE Frame)');
  series(ax, tGrid, vx, '#ff0000', 'vx-line');
  series(ax, tGrid, vy, '#008000', 'vy-line');
  series(ax, tGrid, vz, '#0000ff', 'vz-line');
  ax.finish();
  legend('velocity-legend', 1604, 2163, 72, 71, [['Vx', '#ff0000', 2175], ['Vy', '#008000', 2197], ['Vz', '#0000ff', 2220]], 1614, 1636, 1650);
  yLabel(45, tsTop(3) + 94, 'Vsw(km/s)', 'vsw-y-axis-title');
})();

(function () {
  const yt = range(0, 5, 1);
  const ax = tsPanel(4, 'plasma-beta-chart', 0, 5, yt, yt.map(String), 'Plasma Beta');
  series(ax, betaTimes, betaTotal, '#008000', 'beta-line');
  series(ax, betaTimes, betaProton, '#0000ff', 'beta-proton-line');
  ax.finish();
  legend('beta-legend', 1608, 2446, 68, 57, [['\u03b2p', '#0000ff', 2459, {'font-style': 'italic', fill: '#555'}], ['\u03b2', '#008000', 2487, {'font-style': 'italic', fill: '#555'}]], 1617, 1640, 1656);
  yLabel(77, tsTop(4) + 94, '\u03b2p and \u03b2', 'beta-y-axis-title', 13, '#555');
})();

(function () {
  const yt = range(0, 30, 5);
  const ax = tsPanel(5, 'proton-density-chart', 0, 30, yt, yt.map(String), 'Proton Number Density');
  series(ax, npTimes, npValues, '#0000ff', 'np-line');
  ax.finish();
  yLabel(72, tsTop(5) + 94, 'Np(#/cc)', 'np-y-axis-title');
})();

(function () {
  const yt = [0, 0.1, 0.2, 0.3, 0.4, 0.5];
  const ax = tsPanel(6, 'proton-temperature-chart', 0, 0.5, yt, yt.map(v => v.toFixed(1)), 'Proton Temperature and ');
  const ttl = el('tspan', {'font-style': 'italic', 'font-family': '"DejaVu Serif", serif'}, ax.titleEl);
  mathFrac(ttl);
  const axR = {sx: ax.sx, sy: v => ax.sy(v / 10), plot: ax.plot};
  series(ax, tpTimes, tpValues, '#0000ff', 'tp-line');
  series(axR, teTpTimes, teTpValues, '#ff0000', 'te-tp-ratio-line');
  ax.finish(true);
  const rg = el('g', {});
  
  
  [0, 1, 2, 3, 4, 5].forEach(v => {
    const y = axR.sy(v);
    el('line', {x1: 1683, x2: 1675, y1: y, y2: y, stroke: '#000', 'stroke-width': 1.2}, rg);
    txt(1689, y + 6, String(v), FONT, 'start', rg, {fill: '#ff0000'});
  });
  legend('tp-legend', 124, 3013, 71, 26, [['Tp', '#0000ff', 3026]], 134, 157, 170);
  const lr = legend('te-tp-legend', 1585, 3013, 91, 32, [['', '#ff0000', 3028]], 1596, 1618, 1634);
  const lt = txt(1634, 3033, '', 14, 'start', lr, {'font-style': 'italic', 'font-family': '"DejaVu Serif", serif'});
  mathFrac(lt);
  const yl = yLabel(60, tsTop(6) + 94, 'Tp(', 'tp-y-axis-title');
  let a = el('tspan', {'font-size': 10}, yl); a.textContent = '10';
  let b = el('tspan', {'font-size': 7, dy: -5}, yl); b.textContent = '6';
  let c = el('tspan', {'font-size': 10, dy: 5}, yl); c.textContent = 'K';
  let d = el('tspan', {}, yl); d.textContent = ')';
  const yr = yLabel(1746, tsTop(6) + 94, '', 'te-tp-y-axis-title', 14, '#ff0000');
  yr.setAttribute('font-style', 'italic');
  mathFrac(yr);
})();
</script>
</body></html>
